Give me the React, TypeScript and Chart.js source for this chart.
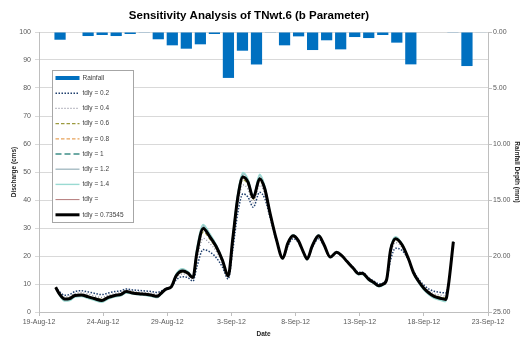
import React, { useEffect, useRef } from 'react';
import { Chart, registerables } from 'chart.js';

Chart.register(...registerables);

const TITLE = 'Sensitivity Analysis of TNwt.6 (b Parameter)';
const X_TITLE = 'Date';
const Y_TITLE = 'Discharge (cms)';
const Y2_TITLE = 'Rainfall Depth (mm)';

// x tick labels every 5 days starting 19-Aug-12 (day 0)
const X_TICK_LABELS = ['19-Aug-12', '24-Aug-12', '29-Aug-12', '3-Sep-12', '8-Sep-12', '13-Sep-12', '18-Sep-12', '23-Sep-12'];

// rainfall categories (secondary, hidden category axis)
const RAIN_DATES = [
  '19-Aug', '20-Aug', '21-Aug', '22-Aug', '23-Aug', '24-Aug', '25-Aug', '26-Aug', '27-Aug', '28-Aug',
  '29-Aug', '30-Aug', '31-Aug', '1-Sep', '2-Sep', '3-Sep', '4-Sep', '5-Sep', '6-Sep', '7-Sep',
  '8-Sep', '9-Sep', '10-Sep', '11-Sep', '12-Sep', '13-Sep', '14-Sep', '15-Sep', '16-Sep', '17-Sep',
  '18-Sep', '19-Sep',
];
const RAINFALL = [
  0, 0.69, 0, 0.36, 0.27, 0.36, 0.18, 0.06, 0.65, 1.19,
  1.49, 1.10, 0.18, 4.10, 1.67, 2.90, 0.03, 1.19, 0.39, 1.61,
  0.74, 1.55, 0.45, 0.54, 0.27, 0.95, 2.89, 0, 0, 0.03,
  3.04, 0.05,
];

// time of discharge values, in days after 19-Aug-12
const DAYS = [
  1.3, 1.6, 2.0, 2.4, 2.8, 3.3, 3.8, 4.3, 4.9, 5.4,
  5.9, 6.4, 6.8, 7.3, 7.8, 8.3, 8.8, 9.2, 9.5, 9.9,
  10.3, 10.7, 11.2, 11.6, 12.0, 12.3, 12.8, 13.3, 13.8, 14.3,
  14.75, 15.1, 15.5, 15.9, 16.3, 16.7, 17.2, 17.6, 18.0, 18.5,
  19.0, 19.4, 19.8, 20.2, 20.6, 20.9, 21.3, 21.8, 22.2, 22.7,
  23.2, 23.6, 24.0, 24.5, 24.9, 25.2, 25.7, 26.1, 26.5, 26.8,
  27.1, 27.4, 27.8, 28.3, 28.8, 29.2, 29.6, 30.0, 30.4, 30.8,
  31.3, 31.7, 31.9, 32.3,
];

const Q_02 = [
  8.8, 7.2, 6.0, 6.3, 7.3, 7.6, 7.2, 6.7, 6.2, 6.8,
  7.3, 7.6, 8.2, 7.9, 7.7, 7.5, 7.3, 7.0, 7.4, 8.3,
  8.8, 11.5, 12.6, 12.3, 11.0, 16.0, 22.3, 21.5, 19.5, 16.0,
  11.8, 22.0, 35.5, 42.2, 41.0, 37.4, 42.8, 40.5, 34.0, 25.5,
  19.6, 23.5, 26.2, 25.0, 21.6, 19.3, 23.0, 26.2, 23.8, 19.9,
  21.0, 20.0, 18.2, 15.9, 14.2, 14.2, 12.2, 11.0, 10.1, 10.3,
  11.5, 18.5, 22.8, 22.0, 18.6, 14.6, 11.7, 9.6, 8.2, 7.4,
  7.0, 6.8, 9.5, 25.1,
];
const Q_04 = [
  8.8, 6.9, 5.4, 5.6, 6.6, 6.9, 6.4, 5.8, 5.2, 6.0,
  6.6, 7.0, 7.8, 7.4, 7.1, 6.9, 6.7, 6.3, 7.0, 8.3,
  8.9, 12.2, 13.6, 13.2, 11.7, 18.5, 26.3, 24.6, 21.8, 17.3,
  12.4, 24.0, 38.5, 45.4, 43.8, 39.0, 45.3, 42.2, 34.8, 25.8,
  19.4, 24.0, 26.7, 25.3, 21.5, 19.1, 23.3, 26.7, 24.0, 19.7,
  21.1, 20.0, 18.1, 15.7, 13.9, 14.0, 11.9, 10.7, 9.7, 10.1,
  11.5, 20.5, 24.8, 23.1, 18.8, 14.3, 11.3, 9.0, 7.5, 6.5,
  6.0, 5.7, 9.2, 25.1,
];
const Q_06 = [
  8.8, 6.5, 4.9, 5.1, 6.1, 6.3, 5.8, 5.1, 4.5, 5.5,
  6.1, 6.5, 7.4, 7.0, 6.7, 6.5, 6.2, 5.8, 6.7, 8.2,
  8.9, 12.7, 14.2, 13.6, 12.1, 20.0, 28.6, 26.1, 22.8, 18.0,
  12.7, 25.2, 40.0, 47.2, 45.4, 40.1, 46.8, 43.4, 35.2, 25.9,
  19.3, 24.4, 27.0, 25.5, 21.5, 19.0, 23.5, 27.0, 24.1, 19.6,
  21.2, 20.0, 18.1, 15.6, 13.8, 13.9, 11.8, 10.6, 9.5, 10.0,
  11.6, 21.4, 25.7, 23.7, 18.9, 14.1, 11.0, 8.7, 7.1, 6.0,
  5.3, 5.0, 9.1, 25.1,
];
const Q_08 = [
  8.8, 6.4, 4.7, 4.9, 6.0, 6.2, 5.6, 4.9, 4.3, 5.3,
  6.0, 6.4, 7.3, 6.9, 6.6, 6.4, 6.1, 5.7, 6.6, 8.2,
  8.9, 12.9, 14.5, 13.8, 12.2, 20.6, 29.4, 26.7, 23.3, 18.3,
  12.8, 25.7, 40.7, 47.9, 46.0, 40.6, 47.3, 43.8, 35.4, 26.0,
  19.2, 24.5, 27.1, 25.6, 21.5, 18.9, 23.6, 27.1, 24.2, 19.6,
  21.3, 20.1, 18.1, 15.6, 13.7, 13.8, 11.7, 10.5, 9.4, 9.9,
  11.6, 21.8, 26.0, 23.9, 19.0, 14.0, 10.9, 8.6, 6.9, 5.8,
  5.1, 4.7, 9.0, 25.1,
];
const Q_10 = [
  8.8, 6.2, 4.3, 4.5, 5.7, 5.9, 5.3, 4.6, 3.9, 5.0,
  5.7, 6.1, 7.1, 6.6, 6.3, 6.1, 5.8, 5.4, 6.4, 8.1,
  8.9, 13.3, 15.0, 14.1, 12.4, 21.8, 30.4, 27.5, 23.8, 18.6,
  12.9, 26.5, 41.8, 48.9, 46.8, 41.2, 48.3, 44.5, 35.7, 26.0,
  19.1, 24.7, 27.4, 25.7, 21.5, 18.8, 23.7, 27.4, 24.3, 19.5,
  21.4, 20.1, 18.0, 15.5, 13.5, 13.6, 11.5, 10.3, 9.2, 9.7,
  11.6, 22.5, 26.5, 24.2, 19.0, 13.8, 10.7, 8.2, 6.5, 5.3,
  4.6, 4.2, 8.9, 25.1,
];
const Q_12 = [
  8.8, 6.0, 4.1, 4.3, 5.5, 5.7, 5.1, 4.4, 3.7, 4.8,
  5.5, 5.9, 6.9, 6.5, 6.2, 6.0, 5.6, 5.2, 6.3, 8.0,
  8.9, 13.5, 15.3, 14.3, 12.5, 22.3, 30.9, 27.8, 24.0, 18.7,
  12.9, 26.9, 42.3, 49.4, 47.1, 41.4, 48.8, 44.8, 35.8, 26.0,
  19.0, 24.8, 27.5, 25.8, 21.5, 18.7, 23.8, 27.5, 24.3, 19.5,
  21.4, 20.1, 18.0, 15.4, 13.4, 13.5, 11.4, 10.2, 9.1, 9.6,
  11.6, 22.8, 26.7, 24.3, 19.0, 13.7, 10.5, 8.0, 6.3, 5.1,
  4.4, 3.9, 8.8, 25.1,
];
const Q_14 = [
  8.8, 5.9, 3.9, 4.1, 5.3, 5.5, 4.9, 4.2, 3.5, 4.6,
  5.4, 5.8, 6.8, 6.4, 6.1, 5.9, 5.5, 5.1, 6.2, 8.0,
  8.9, 13.7, 15.5, 14.5, 12.6, 22.8, 31.3, 28.1, 24.2, 18.8,
  12.9, 27.2, 42.7, 49.8, 47.4, 41.6, 49.2, 45.0, 35.9, 26.0,
  18.9, 24.9, 27.6, 25.8, 21.5, 18.6, 23.9, 27.6, 24.4, 19.4,
  21.5, 20.1, 18.0, 15.4, 13.3, 13.4, 11.3, 10.1, 9.0, 9.5,
  11.6, 23.0, 26.9, 24.4, 19.0, 13.6, 10.4, 7.8, 6.1, 4.9,
  4.2, 3.7, 8.7, 25.1,
];
const Q_BEST = [
  8.8, 6.4, 4.6, 4.8, 5.9, 6.1, 5.5, 4.8, 4.1, 5.2,
  5.9, 6.3, 7.3, 6.8, 6.5, 6.3, 6.0, 5.6, 6.6, 8.2,
  8.9, 13.0, 14.6, 13.9, 12.3, 21.0, 29.8, 27.0, 23.5, 18.5,
  12.9, 26.0, 41.0, 48.2, 46.3, 40.8, 47.6, 44.0, 35.5, 26.0,
  19.2, 24.6, 27.2, 25.6, 21.5, 18.9, 23.6, 27.2, 24.2, 19.6,
  21.3, 20.1, 18.1, 15.6, 13.7, 13.8, 11.7, 10.5, 9.4, 9.9,
  11.6, 22.0, 26.2, 24.0, 19.0, 14.0, 10.9, 8.5, 6.8, 5.6,
  4.9, 4.5, 9.0, 25.1,
];
const Q_BLANK = Q_BEST;

const FONT = "'Liberation Sans', Arial, sans-serif";
const TICK_COLOR = '#595959';

const LINE_SERIES = [
  { label: 'tdly = 0.2', values: Q_02, color: '#1F3F6E', width: 1.5, dash: [1.5, 1.5], order: 8 },
  { label: 'tdly = 0.4', values: Q_04, color: '#8A8A9A', width: 1.3, dash: [1, 2], order: 7 },
  { label: 'tdly = 0.6', values: Q_06, color: '#9C9A3E', width: 1.2, dash: [3.5, 2], order: 6 },
  { label: 'tdly = 0.8', values: Q_08, color: '#E8A25A', width: 1.2, dash: [3.5, 2], order: 5 },
  { label: 'tdly = 1', values: Q_10, color: '#3F8F88', width: 1.3, dash: [6, 3], order: 4 },
  { label: 'tdly = 1.2', values: Q_12, color: '#9FB6BF', width: 1.3, dash: [], order: 3 },
  { label: 'tdly = 1.4', values: Q_14, color: '#9ADAD2', width: 1.4, dash: [], order: 2 },
  { label: 'tdly =', values: Q_BLANK, color: '#9E5656', width: 0.8, dash: [], order: 1 },
  { label: 'tdly = 0.73545', values: Q_BEST, color: '#000000', width: 3, dash: [], order: 0 },
];

const titlePlugin = {
  id: 'ownTitle',
  afterDraw(chart: any) {
    const ctx = chart.ctx;
    ctx.save();
    ctx.font = `bold 11.5px ${FONT}`;
    ctx.fillStyle = '#000000';
    ctx.textAlign = 'center';
    ctx.textBaseline = 'middle';
    ctx.fillText(TITLE, 249, 16);
    ctx.restore();
  },
};

const legendPlugin = {
  id: 'boxLegend',
  afterDraw(chart: any) {
    const ctx = chart.ctx;
    const { left, top } = chart.chartArea;
    const bx = Math.round(left + 13) + 0.5;
    const by = Math.round(top + 38) + 0.5;
    const bw = 81;
    const bh = 152;
    ctx.save();
    ctx.fillStyle = '#ffffff';
    ctx.fillRect(bx, by, bw, bh);
    ctx.strokeStyle = '#a6a6a6';
    ctx.lineWidth = 1;
    ctx.strokeRect(bx, by, bw, bh);
    chart.data.datasets.forEach((d: any, i: number) => {
      const y = by + 7.5 + i * 15.2;
      const x0 = bx + 3;
      const x1 = bx + 27;
      if (d.type === 'bar') {
        ctx.fillStyle = d.backgroundColor;
        ctx.fillRect(x0, y - 2, x1 - x0, 4);
      } else {
        ctx.strokeStyle = d.borderColor;
        ctx.lineWidth = d.borderWidth;
        ctx.setLineDash(d.borderDash || []);
        ctx.beginPath();
        ctx.moveTo(x0, y);
        ctx.lineTo(x1, y);
        ctx.stroke();
        ctx.setLineDash([]);
      }
      ctx.fillStyle = '#404040';
      ctx.font = `6.5px ${FONT}`;
      ctx.textAlign = 'left';
      ctx.textBaseline = 'middle';
      ctx.fillText(d.label, bx + 30, y);
    });
    ctx.restore();
  },
};

export default function App() {
  const ref = useRef<HTMLCanvasElement | null>(null);

  useEffect(() => {
    if (!ref.current) return;
    const datasets: any[] = [
      {
        type: 'bar',
        label: 'Rainfall',
        data: RAINFALL,
        backgroundColor: '#0070C0',
        xAxisID: 'x2',
        yAxisID: 'y2',
        grouped: false,
        barPercentage: 0.8,
        categoryPercentage: 1,
        order: 9,
      },
      ...LINE_SERIES.map((s) => ({
        type: 'line',
        label: s.label,
        data: DAYS.map((d, i) => ({ x: d, y: s.values[i] })),
        borderColor: s.color,
        backgroundColor: s.color,
        borderWidth: s.width,
        borderDash: s.dash,
        pointRadius: 0,
        fill: false,
        cubicInterpolationMode: 'monotone',
        xAxisID: 'x',
        yAxisID: 'y',
        order: s.order,
      })),
    ];

    const chart = new Chart(ref.current, {
      type: 'line',
      data: { datasets },
      options: {
        animation: false,
        responsive: false,
        maintainAspectRatio: false,
        devicePixelRatio: 1,
        layout: { padding: { top: 32, left: 0, right: 0, bottom: 0 } },
        plugins: {
          legend: { display: false },
          title: { display: false },
          tooltip: { enabled: false },
        },
        scales: {
          x: {
            type: 'linear',
            position: 'bottom',
            min: 0,
            max: 35,
            afterFit: (s: any) => { s.height = 30; },
            ticks: {
              stepSize: 5,
              autoSkip: false,
              maxRotation: 0,
              padding: 2,
              color: TICK_COLOR,
              font: { family: FONT, size: 7 },
              callback: (v: any) => X_TICK_LABELS[Math.round(Number(v) / 5)] ?? '',
            },
            grid: { drawOnChartArea: false, drawTicks: true, tickLength: 4, color: '#bfbfbf' },
            border: { color: '#bfbfbf' },
            title: {
              display: true,
              text: X_TITLE,
              color: '#262626',
              font: { family: FONT, size: 6.5, weight: 'bold' },
              padding: { top: 0, bottom: 4 },
            },
          },
          x2: {
            type: 'category',
            labels: RAIN_DATES,
            display: false,
            offset: true,
            position: 'top',
          },
          y: {
            type: 'linear',
            position: 'left',
            min: 0,
            max: 100,
            afterFit: (s: any) => { s.width = 39; },
            ticks: { stepSize: 10, padding: 4, color: TICK_COLOR, font: { family: FONT, size: 7 } },
            grid: { color: '#d9d9d9', tickLength: 4 },
            border: { color: '#bfbfbf' },
            title: {
              display: true,
              text: Y_TITLE,
              color: '#262626',
              font: { family: FONT, size: 6.5, weight: 'bold' },
              padding: { top: 10, bottom: 0 },
            },
          },
          y2: {
            type: 'linear',
            position: 'right',
            min: 0,
            max: 25,
            reverse: true,
            afterFit: (s: any) => { s.width = 33; },
            ticks: {
              stepSize: 5,
              padding: 1,
              color: TICK_COLOR,
              font: { family: FONT, size: 7 },
              callback: (v: any) => Number(v).toFixed(2),
            },
            grid: { drawOnChartArea: false, tickLength: 4, color: '#bfbfbf' },
            border: { color: '#bfbfbf' },
            title: {
              display: true,
              text: Y2_TITLE,
              color: '#262626',
              font: { family: FONT, size: 6.5, weight: 'bold' },
              padding: { top: 0, bottom: 0 },
            },
          },
        },
      } as any,
      plugins: [titlePlugin, legendPlugin],
    });
    return () => chart.destroy();
  }, []);

  return (
    <div style={{ position: 'absolute', left: 0, top: 0, width: 521, height: 342, background: '#ffffff' }}>
      <canvas ref={ref} width={521} height={342} style={{ display: 'block', width: 521, height: 342 }} />
    </div>
  );
}
